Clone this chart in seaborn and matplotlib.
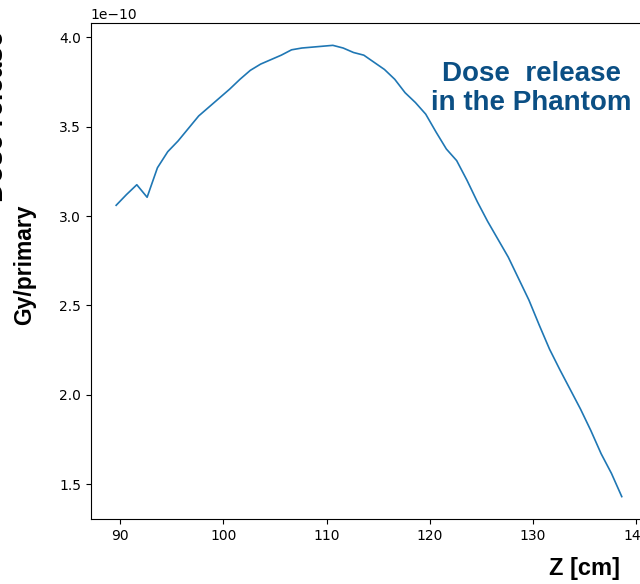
import numpy as np
import pandas as pd
import matplotlib
matplotlib.use("Agg")
import matplotlib.pyplot as plt
import seaborn as sns

# Depth along the phantom [cm]
z_cm = [89.6, 90.6, 91.6, 92.6, 93.6, 94.6, 95.6, 96.6, 97.6, 98.6,
        99.6, 100.6, 101.6, 102.6, 103.6, 104.6, 105.6, 106.6, 107.6, 108.6,
        109.6, 110.6, 111.6, 112.6, 113.6, 114.6, 115.6, 116.6, 117.6, 118.6,
        119.6, 120.6, 121.6, 122.6, 123.6, 124.6, 125.6, 126.6, 127.6, 128.6,
        129.6, 130.6, 131.6, 132.6, 133.6, 134.6, 135.6, 136.6, 137.6, 138.6]
# Dose per primary [1e-10 Gy]
dose_e10 = [3.06, 3.12, 3.175, 3.105, 3.27, 3.36, 3.42, 3.49, 3.56, 3.61,
            3.66, 3.71, 3.765, 3.815, 3.85, 3.875, 3.90, 3.93, 3.94, 3.945,
            3.95, 3.955, 3.94, 3.915, 3.90, 3.86, 3.82, 3.765, 3.69, 3.635,
            3.57, 3.47, 3.375, 3.31, 3.20, 3.08, 2.97, 2.87, 2.77, 2.65,
            2.53, 2.39, 2.255, 2.14, 2.03, 1.92, 1.80, 1.67, 1.56, 1.43]

df = pd.DataFrame({"z": z_cm, "dose": np.array(dose_e10) * 1e-10})

fig = plt.figure(figsize=(6.4, 5.84), dpi=100)
ax = fig.add_axes([0.142, 0.111, 0.869, 0.850])
sns.lineplot(data=df, x="z", y="dose", ax=ax, color="#1f77b4", linewidth=1.2)

ax.set_xticks([90, 100, 110, 120, 130, 140])
ax.set_yticks(np.array([1.5, 2.0, 2.5, 3.0, 3.5, 4.0]) * 1e-10)
ax.set_xlabel("")
ax.set_ylabel("")

bold = dict(family=["Liberation Sans", "DejaVu Sans"], fontweight="bold")
fig.text(0.039, 0.546, "Gy/primary", rotation=90, ha="center", va="center",
         fontsize=16.5, **bold)
fig.text(0.969, 0.027, "Z [cm]", ha="right", va="center", fontsize=17, **bold)
fig.text(0.830, 0.848, "Dose  release\nin the Phantom", ha="center", va="center",
         fontsize=20, color="#0b4f84", linespacing=1.15, **bold)
fig.text(-0.0065, 0.80, "Dose release", rotation=90, ha="center", va="center",
         fontsize=20, **bold)

fig.savefig("out.png", dpi=100)
